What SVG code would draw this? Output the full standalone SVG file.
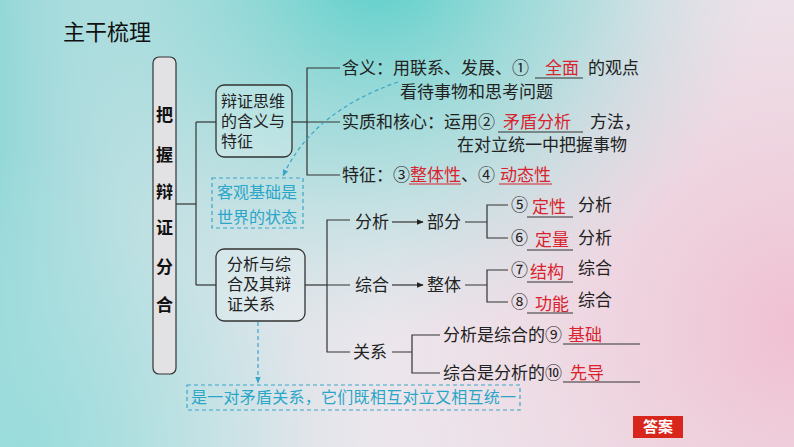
<svg xmlns="http://www.w3.org/2000/svg" width="794" height="447" viewBox="0 0 794 447">
<defs>
<linearGradient id="bgL" x1="0" y1="0" x2="1" y2="0">
<stop offset="0" stop-color="#8ad6d6" stop-opacity="0.9"/>
<stop offset="0.5" stop-color="#c8e4e8" stop-opacity="0"/>
</linearGradient>
<radialGradient id="bgT" cx="380" cy="-40" r="380" gradientUnits="userSpaceOnUse">
<stop offset="0" stop-color="#4ccdc6" stop-opacity="0.95"/>
<stop offset="0.55" stop-color="#7fd6d2" stop-opacity="0.5"/>
<stop offset="1" stop-color="#b0e0e0" stop-opacity="0"/>
</radialGradient>
<radialGradient id="bgP" cx="800" cy="330" r="420" gradientUnits="userSpaceOnUse">
<stop offset="0" stop-color="#f0bfd2" stop-opacity="1"/>
<stop offset="1" stop-color="#f0d0dc" stop-opacity="0"/>
</radialGradient>
<radialGradient id="bgB" cx="20" cy="447" r="300" gradientUnits="userSpaceOnUse">
<stop offset="0" stop-color="#9adcdc" stop-opacity="0.9"/>
<stop offset="1" stop-color="#b8e4e4" stop-opacity="0"/>
</radialGradient>
<marker id="ah" viewBox="0 0 10 10" refX="9" refY="5" markerWidth="7" markerHeight="7" orient="auto" markerUnits="userSpaceOnUse">
<path d="M0,1 L10,5 L0,9 Z" fill="#222"/>
</marker>
<marker id="ahc" viewBox="0 0 10 10" refX="9" refY="5" markerWidth="7" markerHeight="7" orient="auto" markerUnits="userSpaceOnUse">
<path d="M0,1 L10,5 L0,9 Z" fill="#3aa6c8"/>
</marker>
<style>
text{font-family:"Noto Sans CJK SC","Noto Sans",sans-serif;}
.t{font-size:17px;fill:#222;}
.b{font-size:16px;fill:#222;}
.r{font-size:17px;fill:#d9232e;}
.bx{fill:#ffffff;fill-opacity:0.2;stroke:#333;stroke-width:1.3;}
.ln{stroke:#333;stroke-width:1.2;fill:none;}
.ul{stroke:#333;stroke-width:1;}
.ulr{stroke:#d9232e;stroke-width:1;}
.dash{stroke:#3aa6c8;stroke-width:1.2;fill:none;stroke-dasharray:4 3;}
.hw{font-size:16px;fill:#2aa6c8;}
</style>
</defs>
<rect width="794" height="447" fill="#ece6ec"/>
<rect width="794" height="447" fill="url(#bgP)"/>
<rect width="794" height="447" fill="url(#bgL)"/>
<rect width="794" height="447" fill="url(#bgB)"/>
<rect width="794" height="447" fill="url(#bgT)"/>

<text x="63" y="40" font-size="22" fill="#111">主干梳理</text>

<g id="root">
<rect x="153" y="57" width="23" height="317" rx="6" fill="#e2e2e4" stroke="#333" stroke-width="1.2"/>
<g font-size="17" font-weight="bold" fill="#111" text-anchor="middle">
<text x="164.5" y="121">把</text>
<text x="164.5" y="161">握</text>
<text x="164.5" y="198">辩</text>
<text x="164.5" y="234">证</text>
<text x="164.5" y="273">分</text>
<text x="164.5" y="311">合</text>
</g>
</g>

<g id="connectors">
<line class="ln" x1="176" y1="204" x2="196" y2="204"/>
<line class="ln" x1="196" y1="122" x2="196" y2="285"/>
<line class="ln" x1="196" y1="122" x2="216" y2="122"/>
<line class="ln" x1="196" y1="285" x2="216" y2="285"/>
<line class="ln" x1="292" y1="122" x2="307" y2="122"/>
<path class="ln" d="M340,68 H307 V175 H340 M307,122 H340"/>
<line class="ln" x1="305" y1="285" x2="327" y2="285"/>
<path class="ln" d="M350,220 H327 V352 H350 M327,285 H350"/>
<line class="ln" x1="392" y1="222" x2="423" y2="222" marker-end="url(#ah)"/>
<line class="ln" x1="392" y1="285" x2="423" y2="285" marker-end="url(#ah)"/>
<path class="ln" d="M465,222 H487 M508,205 H487 V238 H508"/>
<path class="ln" d="M465,285 H487 M508,270 H487 V302 H508"/>
<path class="ln" d="M392,352 H412 M440,335 H412 V373 H440"/>
<path class="dash" d="M398,82 Q312,112 283,176" marker-end="url(#ahc)"/>
<line class="dash" x1="258" y1="322" x2="258" y2="383" marker-end="url(#ahc)"/>
</g>

<g id="n1">
<rect class="bx" x="216" y="85" width="76" height="72" rx="8"/>
<text class="b" x="221" y="107">辩证思维<tspan x="221" dy="20">的含义与</tspan><tspan x="221" dy="20">特征</tspan></text>
</g>

<g id="n2">
<rect class="bx" x="216" y="249" width="89" height="72" rx="8"/>
<text class="b" x="227" y="270">分析与综<tspan x="227" dy="20">合及其辩</tspan><tspan x="227" dy="20">证关系</tspan></text>
</g>

<g id="note1">
<rect class="dash" x="212" y="178" width="91" height="50"/>
<text class="hw" x="217" y="198">客观基础是<tspan x="217" dy="25">世界的状态</tspan></text>
</g>

<g id="note2">
<rect class="dash" x="187" y="385" width="333" height="25"/>
<text class="hw" x="191" y="403" textLength="325">是一对矛盾关系，它们既相互对立又相互统一</text>
</g>

<g id="meaning">
<text class="t" x="342" y="74">含义：用联系、发展、①</text>
<line class="ul" x1="535" y1="78" x2="583" y2="78"/>
<text class="r" x="545" y="74">全面</text>
<text class="t" x="588" y="74">的观点</text>
<text class="t" x="400" y="98">看待事物和思考问题</text>
</g>

<g id="essence">
<text class="t" x="342" y="128">实质和核心：运用②</text>
<line class="ul" x1="498" y1="132" x2="583" y2="132"/>
<text class="r" x="503" y="128">矛盾分析</text>
<text class="t" x="590" y="128">方法，</text>
<text class="t" x="457" y="151">在对立统一中把握事物</text>
</g>

<g id="feature">
<text class="t" x="342" y="181">特征：③</text>
<text class="r" x="410" y="181">整体性</text>
<line class="ulr" x1="409" y1="184" x2="461" y2="184"/>
<text class="t" x="461" y="181">、④</text>
<text class="r" x="500" y="181">动态性</text>
<line class="ulr" x1="499" y1="184" x2="552" y2="184"/>
</g>

<g id="analysis">
<text class="t" x="355" y="228">分析</text>
<text class="t" x="427" y="228">部分</text>
<text class="t" x="511" y="211">⑤</text>
<line class="ul" x1="527" y1="217" x2="573" y2="217"/>
<text class="r" x="532" y="213">定性</text>
<text class="t" x="578" y="211">分析</text>
<text class="t" x="511" y="244">⑥</text>
<line class="ul" x1="527" y1="250" x2="573" y2="250"/>
<text class="r" x="535" y="246">定量</text>
<text class="t" x="578" y="244">分析</text>
</g>

<g id="synthesis">
<text class="t" x="355" y="291">综合</text>
<text class="t" x="427" y="291">整体</text>
<text class="t" x="511" y="276">⑦</text>
<line class="ul" x1="527" y1="282" x2="573" y2="282"/>
<text class="r" x="530" y="278">结构</text>
<text class="t" x="578" y="274">综合</text>
<text class="t" x="511" y="308">⑧</text>
<line class="ul" x1="527" y1="313" x2="573" y2="313"/>
<text class="r" x="535" y="310">功能</text>
<text class="t" x="578" y="306">综合</text>
</g>

<g id="relation">
<text class="t" x="353" y="358">关系</text>
<text class="t" x="443" y="341">分析是综合的⑨</text>
<line class="ul" x1="563" y1="344" x2="640" y2="344"/>
<text class="r" x="568" y="341">基础</text>
<text class="t" x="443" y="379">综合是分析的⑩</text>
<line class="ul" x1="563" y1="382" x2="640" y2="382"/>
<text class="r" x="570" y="379">先导</text>
</g>

<g id="answer">
<rect x="633" y="416" width="50" height="22" fill="#d9261c"/>
<text x="658" y="432" font-size="15" font-weight="bold" fill="#fff" text-anchor="middle">答案</text>
</g>
</svg>
